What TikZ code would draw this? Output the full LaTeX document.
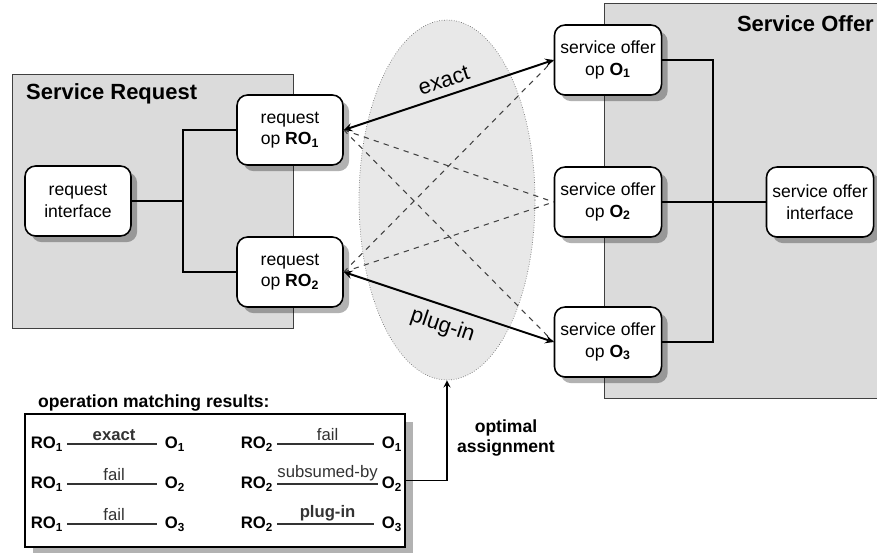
\documentclass[tikz,border=0pt]{standalone}
\usepackage{fontspec}
\setmainfont{Liberation Sans}
\usepackage{tikz}
\usetikzlibrary{shapes, arrows, positioning, fit, backgrounds, shadows}

\begin{document}
\begin{tikzpicture}[
  x=0.02cm, y=-0.02cm,
  >=stealth,
  area/.style={fill=black!14, draw=black!75, line width=0.5pt},
  areatitle/.style={font=\fontsize{12.5}{15}\selectfont\bfseries},
  op/.style={rectangle, rounded corners=6pt, draw, line width=0.9pt, fill=white, minimum width=2.12cm, minimum height=1.4cm, align=center, font=\fontsize{10}{12.3}\selectfont, drop shadow={shadow xshift=3.5pt, shadow yshift=-3.5pt, fill=black, opacity=0.3}},
  treeline/.style={line width=0.8pt},
  pick/.style={<->, line width=1.1pt},
  cand/.style={dashed, black!75, line width=0.6pt},
  arrlabel/.style={font=\fontsize{12.5}{15}\selectfont, sloped, midway, inner sep=1pt},
  res/.style={font=\fontsize{9.5}{11}\selectfont\bfseries, anchor=west, inner sep=2pt},
  resline/.style={black!80, line width=0.6pt},
  reslabel/.style={midway, above, font=\fontsize{9.5}{11}\selectfont, inner sep=1.5pt},
  chosen/.style={reslabel, font=\fontsize{9.5}{11}\selectfont\bfseries},
]
  \useasboundingbox (0,0) rectangle (877,552);

  % request and offer areas
  \draw[area] (12,74) rectangle (293,328);
  \fill[black!14] (604,3) rectangle (877,398);
  \draw[black!75, line width=0.5pt] (877,3) -| (604,398) -- (877,398);
  \node[areatitle, anchor=west] (reqtitle) at (20,94) {Service Request};
  \node[areatitle, anchor=east] (offtitle) at (880,24) {Service Offer};

  % assignment region
  \node[ellipse, draw=black!55, densely dotted, fill=black!9, minimum width=3.52cm, minimum height=7.2cm] (assign) at (447,200) {};

  \node[op] (reqif) at (78,201) {request\\interface};
  \node[op] (ro1) at (290,130) {request\\op \textbf{RO\textsubscript{1}}};
  \node[op] (ro2) at (290,272) {request\\op \textbf{RO\textsubscript{2}}};
  \node[op] (o1) at (608,60) {service offer\\op \textbf{O\textsubscript{1}}};
  \node[op] (o2) at (608,202) {service offer\\op \textbf{O\textsubscript{2}}};
  \node[op] (o3) at (608,342) {service offer\\op \textbf{O\textsubscript{3}}};
  \node[op] (soif) at (820,202) {service offer\\interface};

  \coordinate (rj) at (183,201);
  \coordinate (oj) at (713,202);
  \draw[treeline] (reqif) -- (rj);
  \draw[treeline] (ro1) -| (rj);
  \draw[treeline] (ro2) -| (rj);
  \draw[treeline] (o1) -| (oj);
  \draw[treeline] (o3) -| (oj);
  \draw[treeline] (o2) -- (soif);

  \draw[cand] (ro1.east) -- (o2.west);
  \draw[cand] (ro1.east) -- (o3.west);
  \draw[cand] (ro2.east) -- (o1.west);
  \draw[cand] (ro2.east) -- (o2.west);
  \draw[pick] (ro1.east) -- node[arrlabel, above=3pt]{exact} (o1.west);
  \draw[pick] (ro2.east) -- node[arrlabel, below=4pt]{plug-in} (o3.west);

  % matching results
  \node[font=\fontsize{10}{12}\selectfont\bfseries, anchor=west] (restitle) at (32,403) {operation matching results:};
  \node[rectangle, draw, line width=0.8pt, fill=white, minimum width=7.6cm, minimum height=2.66cm, drop shadow={shadow xshift=4.5pt, shadow yshift=-4.5pt, fill=black, opacity=0.3}] (results) at (215,480.5) {};

  \node[res] (a1) at (27,444) {RO\textsubscript{1}};
  \node[res] (b1) at (161,444) {O\textsubscript{1}};
  \node[res] (a2) at (27,484) {RO\textsubscript{1}};
  \node[res] (b2) at (161,484) {O\textsubscript{2}};
  \node[res] (a3) at (27,524) {RO\textsubscript{1}};
  \node[res] (b3) at (161,524) {O\textsubscript{3}};
  \node[res] (c1) at (237,444) {RO\textsubscript{2}};
  \node[res] (d1) at (378,444) {O\textsubscript{1}};
  \node[res] (c2) at (237,484) {RO\textsubscript{2}};
  \node[res] (d2) at (378,484) {O\textsubscript{2}};
  \node[res] (c3) at (237,524) {RO\textsubscript{2}};
  \node[res] (d3) at (378,524) {O\textsubscript{3}};

  \draw[resline, shorten >=2pt] (a1) -- node[chosen]{exact} (b1);
  \draw[resline, shorten >=2pt] (a2) -- node[reslabel]{fail} (b2);
  \draw[resline, shorten >=2pt] (a3) -- node[reslabel]{fail} (b3);
  \draw[resline, shorten >=2pt] (c1) -- node[reslabel]{fail} (d1);
  \draw[resline] (c2) -- node[reslabel]{subsumed-by} (d2);
  \draw[resline, shorten >=2pt] (c3) -- node[chosen]{plug-in} (d3);

  \draw[->, treeline] (results.east) -| (assign.south);
  \node[font=\fontsize{10}{11.5}\selectfont\bfseries, align=center] (optlabel) at (506,438) {optimal\\assignment};

\end{tikzpicture}
\end{document}
